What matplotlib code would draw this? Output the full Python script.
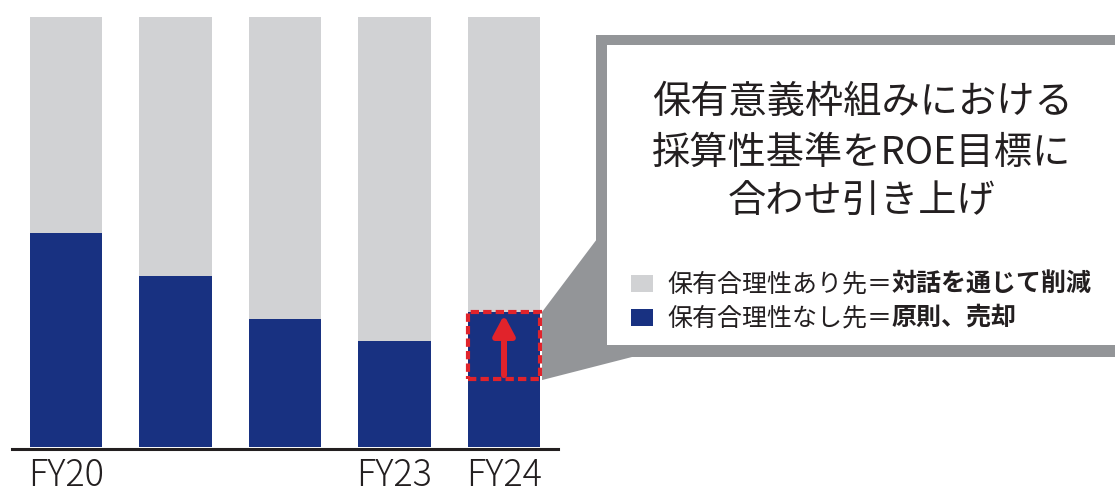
import matplotlib
matplotlib.use("Agg")
import matplotlib.pyplot as plt
from matplotlib.patches import Rectangle, Polygon
import numpy as np

plt.rcParams['font.family'] = ['Noto Sans CJK JP', 'DejaVu Sans']

W, H = 1115, 495

years = ["FY20", "FY21", "FY22", "FY23", "FY24"]
year_labels = ["FY20", "", "", "FY23", "FY24"]
# share of holdings without rationale (dark), FY24 split into base + raise
no_reason = [0.498, 0.398, 0.298, 0.247, 0.158]
raised = [0.0, 0.0, 0.0, 0.0, 0.156]

title_lines = ["保有意義枠組みにおける", "採算性基準をROE目標に", "合わせ引き上げ"]
legend_plain = ["保有合理性あり先＝", "保有合理性なし先＝"]
legend_bold = ["対話を通じて削減", "原則、売却"]

BLUE = "#183181"
LIGHT = "#D1D2D4"
CALLOUT = "#939598"
RED = "#E1232B"
INK = "#231F20"

x = np.arange(len(years))
dark = np.array(no_reason)
up = np.array(raised)
light = 1.0 - dark - up
w = 0.658

fig = plt.figure(figsize=(W / 100, H / 100), dpi=100)

# overlay in pixel coords for the callout
ov = fig.add_axes([0, 0, 1, 1], zorder=0)
ov.set_xlim(0, W)
ov.set_ylim(H, 0)
ov.axis('off')

ax = fig.add_axes([12 / W, (H - 447) / H, 546 / W, 430 / H], zorder=1)
ax.patch.set_alpha(0)
ax.set_xlim(-0.493, 4.493)
ax.set_ylim(0, 1)

ax.bar(x, dark, w, color=BLUE, linewidth=0)
ax.bar(x, up, w, bottom=dark, color=BLUE, linewidth=0)
ax.bar(x, light, w, bottom=dark + up, color=LIGHT, linewidth=0)

for s in ['top', 'left', 'right']:
    ax.spines[s].set_visible(False)
ax.spines['bottom'].set_linewidth(2.2)
ax.spines['bottom'].set_color(INK)
ax.spines['bottom'].set_position(('outward', 1.2))
ax.set_xticks([])
ax.set_yticks([])

# labels sit on the bottom edge of the figure
for i, lab in enumerate(year_labels):
    if lab:
        ax.text(x[i] - w / 2 - 0.02, -(H - 447 - 0.5) / 430, lab,
                transform=ax.get_xaxis_transform(),
                ha='left', va='bottom', fontsize=26, color=INK, fontweight='light')

# highlighted raise on FY24
i4 = len(years) - 1
ax.add_patch(Rectangle((x[i4] - w / 2, dark[i4]), w, up[i4], fill=False,
                       ec=RED, lw=3, ls=(0, (2.0, 1.0)), zorder=5))
ax.annotate('', xy=(x[i4], dark[i4] + up[i4] - 0.007), xytext=(x[i4], dark[i4] + 0.009),
            arrowprops=dict(arrowstyle='-|>,head_length=0.6,head_width=0.32',
                            color=RED, lw=4.3, mutation_scale=20,
                            shrinkA=0, shrinkB=0), zorder=6)

# callout tail from the highlight box
to_ov = lambda p: ov.transData.inverted().transform(ax.transData.transform(p))
tl = to_ov((x[i4] + w / 2, dark[i4] + up[i4]))
bl = to_ov((x[i4] + w / 2, dark[i4]))
ov.add_patch(Polygon([(tl[0] + 2, tl[1]), (597, 239), (597, 357), (632, 357), (bl[0] + 2, bl[1] + 1)],
                     closed=True, fc=CALLOUT, ec='none'))
ov.add_patch(Rectangle((596, 35), 700, 322, fc=CALLOUT, ec='none'))
ov.add_patch(Rectangle((607, 45), 700, 300, fc='white', ec='none'))

for k, (line, yy) in enumerate(zip(title_lines, [103, 153, 202])):
    ov.text(862, yy, line, ha='center', va='center', fontsize=27.5, color=INK)

for k, (c, yy) in enumerate(zip([LIGHT, BLUE], [284, 318])):
    ov.add_patch(Rectangle((631, yy - 9), 22, 17, fc=c, ec='none'))
    t = ov.text(667, yy, legend_plain[k], ha='left', va='center', fontsize=18, color=INK)
    ov.annotate(legend_bold[k], xy=(1, 0.5), xycoords=t, ha='left', va='center',
                fontsize=18, fontweight='bold', color=INK)

fig.savefig("out.png", dpi=100)
